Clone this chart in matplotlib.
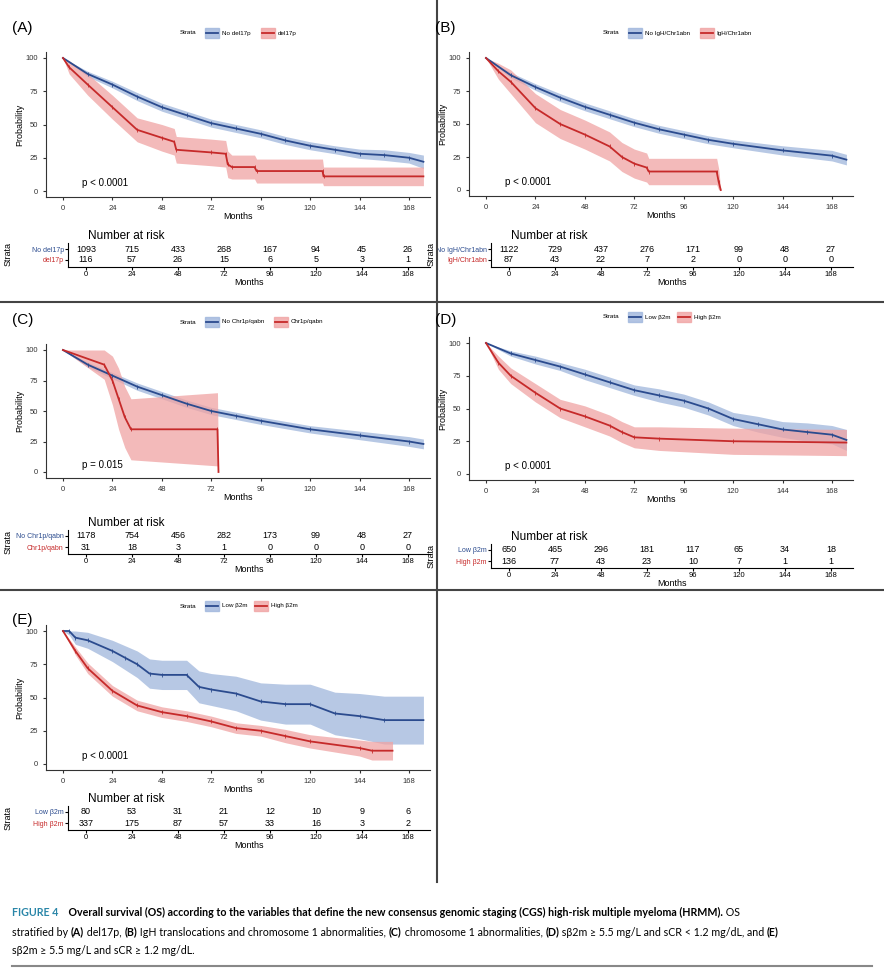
import matplotlib
matplotlib.use("Agg")
import matplotlib.pyplot as plt
from matplotlib.patches import Rectangle
from matplotlib.lines import Line2D

W, H = 884, 974
BLUE = '#2b4b8e'
RED = '#c62a2a'
BLUE_F = '#9fb6dc'
RED_F = '#f0a3a3'

# ---- data (months, survival %, half-width of band) ----
a_blue_t = [0, 12, 24, 36, 48, 60, 72, 84, 96, 108, 120, 132, 144, 156, 168, 175]
a_blue_s = [100, 88, 80, 71, 63, 57, 51, 47, 43, 38, 34, 31, 28, 27, 25, 22]
a_blue_w = [0, 2, 2.5, 3, 3, 3, 3, 3, 3, 3, 3, 3, 3.5, 4, 4, 5]
a_red_t = [0, 3, 12, 24, 36, 48, 54, 55, 72, 79, 80, 82, 93, 94, 126, 126.5, 175]
a_red_s = [100, 93, 80, 63, 46, 40, 37, 31, 29, 28, 20, 18, 18, 15, 15, 11, 11]
a_red_w = [0, 5, 8, 9, 9, 10, 10, 10, 10, 10, 10, 9, 9, 9, 9, 7, 7]

b_blue_t = [0, 12, 24, 36, 48, 60, 72, 84, 96, 108, 120, 144, 168, 175]
b_blue_s = [100, 87, 78, 70, 63, 57, 51, 46, 42, 38, 35, 30, 26, 23]
b_blue_w = [0, 2, 2.5, 3, 3, 3, 3, 3, 3, 3, 3, 3.5, 4, 4]
b_red_t = [0, 6, 12, 24, 36, 48, 60, 66, 72, 78, 79, 112, 113, 114]
b_red_s = [100, 90, 82, 62, 50, 42, 33, 25, 20, 17, 14, 14, 6, 0]
b_red_w = [0, 6, 9, 11, 11, 11, 11, 11, 11, 11, 10, 10, 10, 0]

c_blue_t = [0, 12, 24, 36, 48, 60, 72, 84, 96, 120, 144, 168, 175]
c_blue_s = [100, 88, 79, 70, 63, 56, 50, 46, 42, 35, 30, 25, 23]
c_blue_w = [0, 2, 2.5, 3, 3, 3, 3, 3, 3, 3, 3.5, 4, 4]
c_red_t = [0, 20, 24, 27, 30, 33, 75, 75.5]
c_red_s = [100, 88, 75, 60, 45, 35, 35, 0]
c_red_w = [0, 12, 20, 25, 25, 25, 30, 0]

d_blue_t = [0, 12, 24, 36, 48, 60, 72, 84, 96, 108, 120, 132, 144, 156, 168, 175]
d_blue_s = [100, 92, 87, 82, 76, 70, 64, 60, 56, 50, 42, 38, 34, 32, 30, 26]
d_blue_w = [0, 2, 3, 3, 4, 4, 4, 5, 5, 5, 5, 6, 6, 7, 7, 8]
d_red_t = [0, 6, 12, 24, 36, 48, 60, 66, 72, 84, 120, 175]
d_red_s = [100, 85, 75, 62, 50, 44, 37, 32, 28, 27, 25, 24]
d_red_w = [0, 5, 6, 7, 7, 8, 8, 8, 8, 9, 10, 10]

e_blue_t = [0, 3, 6, 12, 24, 30, 36, 42, 48, 60, 66, 72, 84, 96, 108, 120, 132, 144, 156, 175]
e_blue_s = [100, 100, 95, 93, 85, 80, 75, 68, 67, 67, 58, 56, 53, 47, 45, 45, 38, 36, 33, 33]
e_blue_w = [0, 3, 5, 6, 8, 9, 10, 11, 11, 11, 12, 12, 13, 14, 15, 15, 16, 17, 18, 18]
e_red_t = [0, 6, 12, 24, 36, 48, 60, 72, 84, 96, 108, 120, 144, 150, 160]
e_red_s = [100, 85, 72, 55, 44, 39, 36, 32, 27, 25, 21, 17, 12, 10, 10]
e_red_w = [0, 3, 4, 4, 4, 4, 4, 4, 4, 4, 5, 5, 6, 7, 7]

risk_times = [0, 24, 48, 72, 96, 120, 144, 168]
a_risk = ([1093, 715, 433, 268, 167, 94, 45, 26], [116, 57, 26, 15, 6, 5, 3, 1])
b_risk = ([1122, 729, 437, 276, 171, 99, 48, 27], [87, 43, 22, 7, 2, 0, 0, 0])
c_risk = ([1178, 754, 456, 282, 173, 99, 48, 27], [31, 18, 3, 1, 0, 0, 0, 0])
d_risk = ([650, 465, 296, 181, 117, 65, 34, 18], [136, 77, 43, 23, 10, 7, 1, 1])
e_risk = ([80, 53, 31, 21, 12, 10, 9, 6], [337, 175, 87, 57, 33, 16, 3, 2])

panels = [
    dict(tag='(A)', names=('No del17p', 'del17p'), p='p < 0.0001',
         blue=(a_blue_t, a_blue_s, a_blue_w), red=(a_red_t, a_red_s, a_red_w), risk=a_risk,
         ox=0, lab_y=28, leg_y=33, y100=58, y0=191, row=249),
    dict(tag='(B)', names=('No IgH/Chr1abn', 'IgH/Chr1abn'), p='p < 0.0001',
         blue=(b_blue_t, b_blue_s, b_blue_w), red=(b_red_t, b_red_s, b_red_w), risk=b_risk,
         ox=423, lab_y=28, leg_y=33, y100=58, y0=190, row=249),
    dict(tag='(C)', names=('No Chr1p/qabn', 'Chr1p/qabn'), p='p = 0.015',
         blue=(c_blue_t, c_blue_s, c_blue_w), red=(c_red_t, c_red_s, c_red_w), risk=c_risk,
         ox=0, lab_y=320, leg_y=322, y100=350, y0=472, row=536),
    dict(tag='(D)', names=('Low β2m', 'High β2m'), p='p < 0.0001',
         blue=(d_blue_t, d_blue_s, d_blue_w), red=(d_red_t, d_red_s, d_red_w), risk=d_risk,
         ox=423, lab_y=320, leg_y=317, y100=343, y0=474, row=550),
    dict(tag='(E)', names=('Low β2m', 'High β2m'), p='p < 0.0001',
         blue=(e_blue_t, e_blue_s, e_blue_w), red=(e_red_t, e_red_s, e_red_w), risk=e_risk,
         ox=0, lab_y=620, leg_y=606, y100=631, y0=764, row=812),
]

fig = plt.figure(figsize=(W / 100, H / 100), dpi=100)
plt.rcParams['font.family'] = ['Liberation Sans', 'DejaVu Sans']


def rect(x0, y0, x1, y1):
    return [x0 / W, 1 - y1 / H, (x1 - x0) / W, (y1 - y0) / H]


def fx(x):
    return x / W


def fy(y):
    return 1 - y / H


for pn in panels:
    ox = pn['ox']
    # survival axes
    x0px, x168px = 63 + ox, 409 + ox
    ppm = (x168px - x0px) / 168.0
    left, right = 46 + ox, 430 + ox
    pps = (pn['y0'] - pn['y100']) / 100.0
    top, bot = pn['y100'] - 6, pn['y0'] + 6
    ax = fig.add_axes(rect(left, top, right, bot))
    ax.set_xlim(-(x0px - left) / ppm, 168 + (right - x168px) / ppm)
    ax.set_ylim(-(bot - pn['y0']) / pps, 100 + (pn['y100'] - top) / pps)
    for (t, s, w), col, fcol in [(pn['blue'], BLUE, BLUE_F), (pn['red'], RED, RED_F)]:
        lo = [max(v - d, 0) for v, d in zip(s, w)]
        hi = [min(v + d, 100) for v, d in zip(s, w)]
        ax.fill_between(t, lo, hi, color=fcol, alpha=0.75, lw=0)
        ax.plot(t, s, color=col, lw=1.3)
        ax.plot(t[1:-1], s[1:-1], ls='none', marker='|', ms=3, color=col, mew=0.6)
    ax.text(9, 2, pn['p'], fontsize=7, va='bottom')
    ax.set_xticks(risk_times)
    ax.set_yticks([0, 25, 50, 75, 100])
    ax.tick_params(labelsize=5.5, length=2, colors='#333333')
    ax.set_xlabel('Months', fontsize=6.5, labelpad=0)
    ax.set_ylabel('Probability', fontsize=6.5, labelpad=1)
    for sp in ['top', 'right']:
        ax.spines[sp].set_visible(False)
    for sp in ['left', 'bottom']:
        ax.spines[sp].set_linewidth(0.8)
        ax.spines[sp].set_color('#333333')

    # panel label and legend
    fig.text(fx(12 + ox), fy(pn['lab_y']), pn['tag'], fontsize=11, va='center')
    lx = 180 + ox
    fig.text(fx(lx), fy(pn['leg_y']), 'Strata', fontsize=4.5, va='center')
    lx += 25
    for name, col, fcol in [(pn['names'][0], BLUE, BLUE_F), (pn['names'][1], RED, RED_F)]:
        fig.patches.append(Rectangle((fx(lx), fy(pn['leg_y'] + 5)), 14 / W, 10 / H,
                                     transform=fig.transFigure, color=fcol, alpha=0.8))
        fig.lines.append(Line2D([fx(lx + 1), fx(lx + 13)], [fy(pn['leg_y'])] * 2,
                                transform=fig.transFigure, color=col, lw=1.3))
        fig.text(fx(lx + 17), fy(pn['leg_y']), name, fontsize=4.5, va='center')
        lx += 17 + len(name) * 3.2 + 10

    # risk table
    r1 = pn['row']
    r2 = r1 + 11
    tl, tr = 68 + ox, 430 + ox
    t0, t168 = 86 + ox, 408 + ox
    tp = (t168 - t0) / 168.0
    ttop, tbot = r1 - 6, r2 + 7
    tax = fig.add_axes(rect(tl, ttop, tr, tbot))
    tax.set_xlim(-(t0 - tl) / tp, 168 + (tr - t168) / tp)
    rp = r2 - r1
    tax.set_ylim(-(tbot - r2) / rp, 1 + (r1 - ttop) / rp)
    for i, tm in enumerate(risk_times):
        tax.text(tm, 1, str(pn['risk'][0][i]), fontsize=6.5, ha='center', va='center')
        tax.text(tm, 0, str(pn['risk'][1][i]), fontsize=6.5, ha='center', va='center')
    tax.set_xticks(risk_times)
    tax.set_yticks([0, 1])
    tax.set_yticklabels([pn['names'][1], pn['names'][0]])
    for lbl, col in zip(tax.get_yticklabels(), [RED, BLUE]):
        lbl.set_color(col)
    tax.tick_params(axis='y', labelsize=5, length=2, pad=1)
    tax.tick_params(axis='x', labelsize=5.5, length=2, pad=1)
    tax.set_xlabel('Months', fontsize=6.5, labelpad=0)
    for sp in ['top', 'right']:
        tax.spines[sp].set_visible(False)
    fig.text(fx(88 + ox), fy(r1 - 13), 'Number at risk', fontsize=8.5, va='center')
    fig.text(fx(8 + ox), fy((r1 + r2) / 2), 'Strata', fontsize=6.5, rotation=90,
             va='center', ha='center')

# dividers
fig.lines.append(Line2D([fx(437)] * 2, [fy(0), fy(882)], transform=fig.transFigure,
                        color='#444444', lw=1.5))
for yy in [302, 590]:
    fig.lines.append(Line2D([0, 1], [fy(yy)] * 2, transform=fig.transFigure,
                            color='#444444', lw=1.5))

# caption, built from pieces of mixed weight
renderer = fig.canvas.get_renderer()
cap_lines = [
    (912, [('FIGURE 4', 'bold', '#2a86a8'),
           ('    Overall survival (OS) according to the variables that define the new consensus genomic staging (CGS) high-risk multiple myeloma (HRMM).', 'bold', 'black'),
           (' OS', 'normal', 'black')]),
    (932, [('stratified by ', 'normal', 'black'), ('(A)', 'bold', 'black'), (' del17p, ', 'normal', 'black'),
           ('(B)', 'bold', 'black'), (' IgH translocations and chromosome 1 abnormalities, ', 'normal', 'black'),
           ('(C)', 'bold', 'black'), (' chromosome 1 abnormalities, ', 'normal', 'black'),
           ('(D)', 'bold', 'black'), (' sβ2m ≥ 5.5 mg/L and sCR < 1.2 mg/dL, and ', 'normal', 'black'),
           ('(E)', 'bold', 'black')]),
    (951, [('sβ2m ≥ 5.5 mg/L and sCR ≥ 1.2 mg/dL.', 'normal', 'black')]),
]
for yy, parts in cap_lines:
    x = 12
    for txt, wt, col in parts:
        t = fig.text(fx(x), fy(yy), txt, fontsize=7.7, fontweight=wt, color=col, va='center',
                     family=['Lato', 'DejaVu Sans'])
        bb = t.get_window_extent(renderer=renderer)
        x += bb.width
fig.lines.append(Line2D([fx(12), fx(872)], [fy(966)] * 2, transform=fig.transFigure,
                        color='#888888', lw=1.5))

fig.savefig('out.png', dpi=100)
